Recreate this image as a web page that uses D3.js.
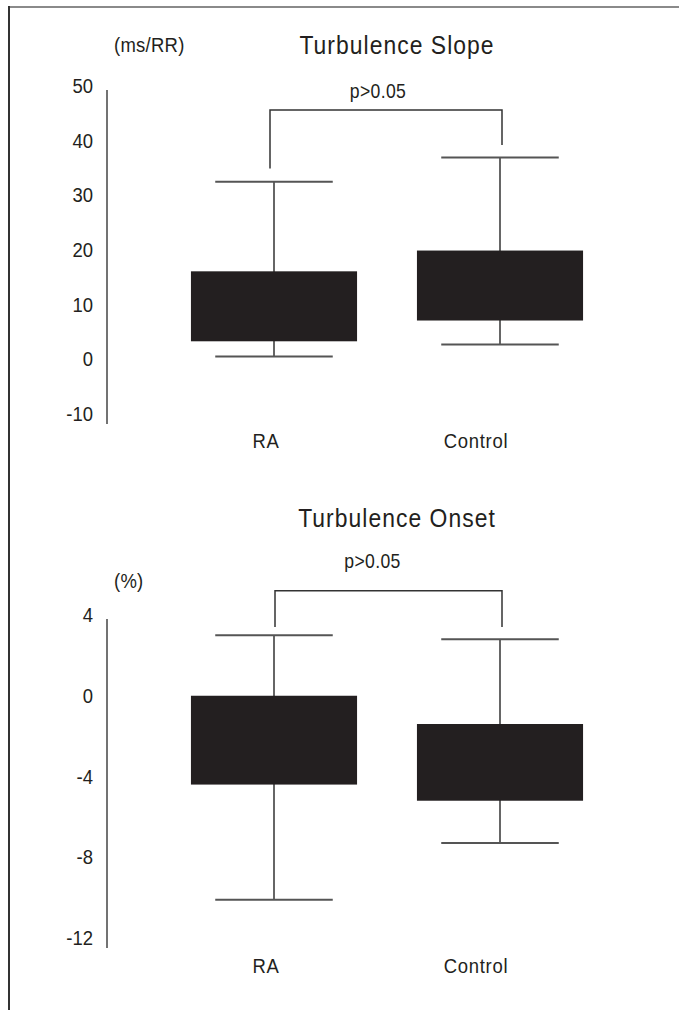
<!DOCTYPE html>
<html lang="en">
<head>
<meta charset="UTF-8">
<title>Turbulence Slope / Onset</title>
<style>
    body { margin: 0; background: #fff; }
    svg text {
        font-family: "Liberation Sans", Arial, sans-serif;
        fill: #231f20;
    }
</style>
</head>
<body>
<div id="chart"></div>
<script src="https://d3js.org/d3.v7.min.js"></script>
<script>
    // groups
    const categories = ["RA", "Control"];

    // Turbulence Slope (ms/RR)
    const slopeQ1 = [3.3, 7.1];
    const slopeQ3 = [16.1, 19.9];
    const slopeMin = [0.5, 2.7];
    const slopeMax = [32.5, 36.9];
    const slopeTicks = [50, 40, 30, 20, 10, 0, -10];
    const slopeBracket = [34.9, 45.6, 39.2];   // left leg end, bar, right leg end

    // Turbulence Onset (%)
    const onsetQ1 = [-4.4, -5.2];
    const onsetQ3 = [0.0, -1.4];
    const onsetMin = [-10.1, -7.3];
    const onsetMax = [3.0, 2.8];
    const onsetTicks = [4, 0, -4, -8, -12];
    const onsetBracket = [3.4, 5.2, 3.4];

    const pLabel = "p>0.05";

    const width = 679, height = 1010;
    const ink = "#231f20";
    const squeeze = 0.88;   // condensed look

    const svg = d3.select("#chart").append("svg")
        .attr("width", width)
        .attr("height", height);

    // narrow text helper: place at (x,y) and squeeze horizontally
    function label(sel, tx, ty, size, anchor, str, spacing) {
        return sel.append("text")
            .attr("transform", `translate(${tx},${ty}) scale(${squeeze},1)`)
            .attr("text-anchor", anchor)
            .style("font-size", size + "px")
            .style("letter-spacing", (spacing || 0) + "px")
            .text(str);
    }

    // page frame (top and left edge)
    svg.append("line").attr("x1", 9).attr("x2", width).attr("y1", 7).attr("y2", 7)
        .attr("stroke", "#8a8a8a").attr("stroke-width", 2);
    svg.append("line").attr("x1", 9).attr("x2", 9).attr("y1", 6).attr("y2", height)
        .attr("stroke", "#333").attr("stroke-width", 2);

    const x = d3.scaleBand().domain(categories).range([161, 613]);
    const labelX = d3.scalePoint().domain(categories).range([266, 476]);
    const boxW = x.bandwidth() * 0.735;
    const capW = x.bandwidth() * 0.52;

    function panel(cfg) {
        const y = d3.scaleLinear().domain(cfg.domain).range(cfg.range);
        const g = svg.append("g");

        label(g, 397, cfg.titleY, 26, "middle", cfg.title, 1.2);
        label(g, 114, cfg.unitY, 21, "start", cfg.unit, 0.3);

        // axis: plain vertical line with labels, no tick marks
        const axisX = 107;
        g.append("line")
            .attr("x1", axisX).attr("x2", axisX)
            .attr("y1", y(cfg.domain[1]) + 4).attr("y2", y(cfg.domain[0]) + 10)
            .attr("stroke", "#444").attr("stroke-width", 1.5);

        cfg.ticks.forEach(t => {
            label(g, axisX - 14, y(t) + 7, 21, "end", t);
        });

        const rows = categories.map((c, i) => ({
            c, q1: cfg.q1[i], q3: cfg.q3[i], lo: cfg.lo[i], hi: cfg.hi[i]
        }));
        const cx = d => x(d.c) + x.bandwidth() / 2;

        // whiskers
        g.selectAll(".whisker").data(rows).join("line")
            .attr("class", "whisker")
            .attr("x1", cx).attr("x2", cx)
            .attr("y1", d => y(d.hi)).attr("y2", d => y(d.lo))
            .attr("stroke", "#333").attr("stroke-width", 1.5);

        g.selectAll(".cap-hi").data(rows).join("line")
            .attr("class", "cap-hi")
            .attr("x1", d => cx(d) - capW / 2).attr("x2", d => cx(d) + capW / 2)
            .attr("y1", d => y(d.hi)).attr("y2", d => y(d.hi))
            .attr("stroke", "#555").attr("stroke-width", 2);

        g.selectAll(".cap-lo").data(rows).join("line")
            .attr("class", "cap-lo")
            .attr("x1", d => cx(d) - capW / 2).attr("x2", d => cx(d) + capW / 2)
            .attr("y1", d => y(d.lo)).attr("y2", d => y(d.lo))
            .attr("stroke", "#555").attr("stroke-width", 2);

        // boxes
        g.selectAll(".box").data(rows).join("rect")
            .attr("class", "box")
            .attr("x", d => cx(d) - boxW / 2)
            .attr("width", boxW)
            .attr("y", d => y(d.q3))
            .attr("height", d => y(d.q1) - y(d.q3))
            .attr("fill", ink);

        // significance bracket
        const b = cfg.bracket;
        const bx0 = x(categories[0]) + x.bandwidth() / 2 + cfg.bracketDx[0];
        const bx1 = x(categories[1]) + x.bandwidth() / 2 + cfg.bracketDx[1];
        g.append("path")
            .attr("d", d3.line()([[bx0, y(b[0])], [bx0, y(b[1])], [bx1, y(b[1])], [bx1, y(b[2])]]))
            .attr("fill", "none")
            .attr("stroke", "#333").attr("stroke-width", 1.5);

        label(g, (bx0 + bx1) / 2 + cfg.pDx, y(b[1]) - cfg.pGap, 20, "middle", pLabel, 0.4);

        // group labels
        categories.forEach(c => {
            label(g, labelX(c), cfg.catY, 21, "middle", c, 0.8);
        });
    }

    panel({
        title: "Turbulence Slope", titleY: 54,
        unit: "(ms/RR)", unitY: 52,
        domain: [-10, 50], range: [414, 86],
        ticks: slopeTicks,
        q1: slopeQ1, q3: slopeQ3, lo: slopeMin, hi: slopeMax,
        bracket: slopeBracket, bracketDx: [-4, 2], pDx: -8, pGap: 12,
        catY: 448
    });

    panel({
        title: "Turbulence Onset", titleY: 527,
        unit: "(%)", unitY: 588,
        domain: [-12, 4], range: [938, 615],
        ticks: onsetTicks,
        q1: onsetQ1, q3: onsetQ3, lo: onsetMin, hi: onsetMax,
        bracket: onsetBracket, bracketDx: [1, 2], pDx: -16, pGap: 23,
        catY: 973
    });
</script>
</body>
</html>
